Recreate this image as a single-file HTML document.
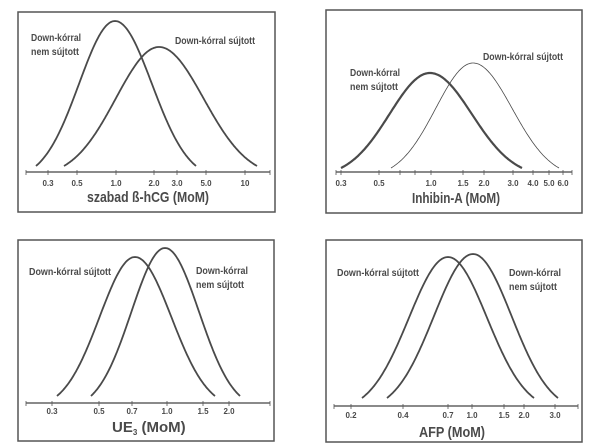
<!DOCTYPE html>
<html><head><meta charset="utf-8"><style>
html,body{margin:0;padding:0;background:#fff;}
svg{display:block;}
text{font-family:"Liberation Sans Narrow","Liberation Sans",sans-serif;font-weight:bold;fill:#4a4a4a;}
.l{font-size:10.5px;}
.t{font-size:8px;}
.ti{font-size:15px;}
</style></head><body>
<svg id="s" width="600" height="448" viewBox="0 0 600 448" xmlns="http://www.w3.org/2000/svg">
<g fill="none" stroke="#555" stroke-width="1.5">
<rect x="18" y="12" width="257" height="200"/>
<rect x="326" y="10" width="256" height="203"/>
<rect x="18" y="240" width="256" height="201"/>
<rect x="326" y="240" width="256" height="202"/>
</g>
<g stroke="#444" stroke-width="1.2">
<line x1="26" y1="172" x2="270" y2="172"/>
<line x1="336" y1="172" x2="572" y2="172"/>
<line x1="26" y1="403" x2="270" y2="403"/>
<line x1="334" y1="406" x2="578" y2="406"/>
</g>
<g id="curves" fill="none" stroke="#4a4a4a"></g>
<g id="ticks" stroke="#555" stroke-width="0.8"></g>

<text class="l" x="31" y="41" textLength="50" lengthAdjust="spacingAndGlyphs">Down-kórral</text>
<text class="l" x="31" y="55" textLength="48" lengthAdjust="spacingAndGlyphs">nem sújtott</text>
<text class="l" x="175" y="44" textLength="80" lengthAdjust="spacingAndGlyphs">Down-kórral sújtott</text>
<g class="t" text-anchor="middle">
<text x="48" y="186">0.3</text><text x="77" y="186">0.5</text><text x="116" y="186">1.0</text><text x="154" y="186">2.0</text><text x="177" y="186">3.0</text><text x="206" y="186">5.0</text><text x="245" y="186">10</text>
</g>
<text class="ti" x="148" y="202" text-anchor="middle" textLength="122" lengthAdjust="spacingAndGlyphs">szabad ß-hCG (MoM)</text>

<text class="l" x="350" y="76" textLength="50" lengthAdjust="spacingAndGlyphs">Down-kórral</text>
<text class="l" x="350" y="90" textLength="48" lengthAdjust="spacingAndGlyphs">nem sújtott</text>
<text class="l" x="483" y="60" textLength="80" lengthAdjust="spacingAndGlyphs">Down-kórral sújtott</text>
<g class="t" text-anchor="middle">
<text x="341" y="186">0.3</text><text x="379" y="186">0.5</text><text x="431" y="186">1.0</text><text x="463" y="186">1.5</text><text x="484" y="186">2.0</text><text x="513" y="186">3.0</text><text x="533" y="186">4.0</text><text x="549" y="186">5.0</text><text x="563" y="186">6.0</text>
</g>
<text class="ti" x="456" y="203" text-anchor="middle" textLength="88" lengthAdjust="spacingAndGlyphs">Inhibin-A (MoM)</text>

<text class="l" x="29" y="275" textLength="82" lengthAdjust="spacingAndGlyphs">Down-kórral sújtott</text>
<text class="l" x="196" y="274" textLength="52" lengthAdjust="spacingAndGlyphs">Down-kórral</text>
<text class="l" x="196" y="288" textLength="48" lengthAdjust="spacingAndGlyphs">nem sújtott</text>
<g class="t" text-anchor="middle">
<text x="52" y="414">0.3</text><text x="99" y="414">0.5</text><text x="132" y="414">0.7</text><text x="167" y="414">1.0</text><text x="203" y="414">1.5</text><text x="229" y="414">2.0</text>
</g>
<text class="ti" x="112" y="432">UE<tspan font-size="8" dy="3">3</tspan><tspan dy="-3"> (MoM)</tspan></text>

<text class="l" x="337" y="276" textLength="82" lengthAdjust="spacingAndGlyphs">Down-kórral sújtott</text>
<text class="l" x="509" y="276" textLength="52" lengthAdjust="spacingAndGlyphs">Down-kórral</text>
<text class="l" x="509" y="290" textLength="48" lengthAdjust="spacingAndGlyphs">nem sújtott</text>
<g class="t" text-anchor="middle">
<text x="351" y="418">0.2</text><text x="403" y="418">0.4</text><text x="448" y="418">0.7</text><text x="472" y="418">1.0</text><text x="504" y="418">1.5</text><text x="524" y="418">2.0</text><text x="555" y="418">3.0</text>
</g>
<text class="ti" x="452" y="437" text-anchor="middle" textLength="66" lengthAdjust="spacingAndGlyphs">AFP (MoM)</text>
</svg>
<script>
var NS="http://www.w3.org/2000/svg";
function curve(x0,px,x1,py,ey,w){
  var pts=[], k=2.2, ge=Math.exp(-k*k/2);
  for(var x=x0;x<=x1+0.01;x+=1){
    var sig=x<px?(px-x0)/k:(x1-px)/k;
    var g=Math.exp(-Math.pow(x-px,2)/(2*sig*sig));
    var y=ey-(ey-py)*(g-ge)/(1-ge);
    pts.push(x.toFixed(1)+","+y.toFixed(1));
  }
  var p=document.createElementNS(NS,"polyline");
  p.setAttribute("points",pts.join(" "));
  p.setAttribute("stroke-width",w);
  document.getElementById("curves").appendChild(p);
}
curve(36,115,196,21,166,1.8);
curve(64,159,257,47,166,1.8);
curve(341,430,522,73,168,2.2);
curve(391,473,559,63,168,0.8);
curve(57,135,215,257,396,1.8);
curve(91,165,240,248,396,1.8);
curve(362,448,534,257,398,1.8);
curve(387,473,558,254,398,1.8);
var T=document.getElementById("ticks");
function tk(xs,y){xs.forEach(function(x){var l=document.createElementNS(NS,"line");l.setAttribute("x1",x);l.setAttribute("x2",x);l.setAttribute("y1",y-2);l.setAttribute("y2",y+3);T.appendChild(l);});}
tk([26,48,77,116,154,177,206,245,270],172);
tk([336,341,379,400,415,431,463,484,513,533,549,563,572],172);
tk([26,52,99,132,167,203,229,270],403);
tk([334,351,403,448,472,504,524,555,578],406);
</script>
</body></html>
